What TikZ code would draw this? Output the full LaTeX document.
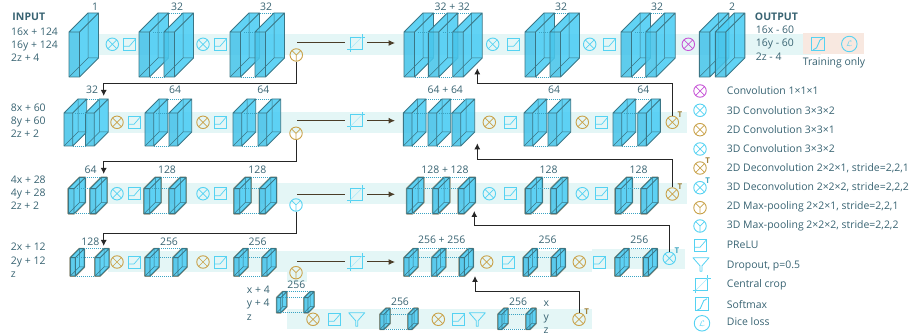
\documentclass[tikz,border=0pt]{standalone}
\usepackage{fontspec}
\setmainfont{Open Sans}
\usetikzlibrary{arrows.meta,positioning,calc}
\definecolor{iconcyan}{HTML}{55D2F2}
\definecolor{icongold}{HTML}{C9A24A}
\definecolor{iconpurple}{HTML}{C653D6}
\definecolor{slabfill}{HTML}{4BCDF4}
\definecolor{slabline}{HTML}{3A7686}
\definecolor{slabhalo}{HTML}{A89C80}
\definecolor{bandteal}{HTML}{E4F6F6}
\definecolor{bandorange}{HTML}{F8E8E0}
\definecolor{textteal}{HTML}{386372}
\definecolor{darkflow}{HTML}{4A3D28}
\definecolor{dotcolour}{HTML}{3AA4C4}
% one conv slab: x, y of front top left, width, height, depth
\newcommand{\slab}[5]{
  \fill[slabfill, fill opacity=0.88] (#1,#2) -- (#1+#5,#2-#5) -- (#1+#5+#3,#2-#5) -- (#1+#5+#3,#2-#5+#4) -- (#1+#3,#2+#4) -- (#1,#2+#4) -- cycle;
  \fill[slabline, fill opacity=0.08] (#1,#2) rectangle (#1+#3,#2+#4);
  \draw[slabline, line width=0.5pt] (#1+#5,#2-#5+#4) -- (#1,#2+#4) (#1+#5,#2-#5+#4) -- (#1+#5,#2-#5) (#1+#5,#2-#5+#4) -- (#1+#5+#3,#2-#5+#4);
  \draw[slabline, line width=0.9pt, line join=round] (#1,#2) rectangle (#1+#3,#2+#4) (#1,#2) -- (#1+#5,#2-#5) -- (#1+#5+#3,#2-#5) -- (#1+#3,#2) (#1+#5+#3,#2-#5) -- (#1+#5+#3,#2-#5+#4) -- (#1+#3,#2+#4);
}
% tan rim round the small slabs
\newcommand{\slabrim}[5]{
  \draw[slabhalo, line width=1.7pt, line join=round] (#1,#2) -- (#1+#5,#2-#5) -- (#1+#5+#3,#2-#5) -- (#1+#5+#3,#2-#5+#4) -- (#1+#3,#2+#4) -- (#1,#2+#4) -- cycle;
}
% dotted links between two neighbouring slabs
\newcommand{\slablink}[6]{
  \draw[linkdots] (#1+#5+#4,#3-#5) -- (#2+#5,#3-#5);
  \draw[linkdots] (#1+#5*0.75,#3) -- (#2,#3);
  \draw[linkdots] (#1+#4,#3+#6) -- (#2,#3+#6);
}

\begin{document}
\begin{tikzpicture}[
  x=1pt, y=-1pt,
  font=\fontsize{10.45}{13.3}\selectfont,
  every node/.style={text=textteal},
  band/.style={fill=bandteal},
  linkdots/.style={draw=dotcolour, line width=0.8pt, dash pattern=on 1pt off 1pt},
  conv/.style={circle, draw=#1, minimum size=12.5pt, inner sep=0pt, line width=0.9pt,
    path picture={\draw[#1, line width=0.7pt] (path picture bounding box.north west) -- (path picture bounding box.south east) (path picture bounding box.north east) -- (path picture bounding box.south west);}},
  deconv/.style={conv=#1, label={[text=#1!80!black, font=\bfseries\fontsize{8}{8}\selectfont, inner sep=0pt]40:T}},
  maxpool/.style={circle, draw=#1, minimum size=12.5pt, inner sep=0pt, line width=0.9pt,
    path picture={\draw[#1, line width=0.7pt] (path picture bounding box.center) -- (path picture bounding box.north west) (path picture bounding box.center) -- (path picture bounding box.north east) (path picture bounding box.center) -- (path picture bounding box.south);}},
  prelu/.style={rectangle, draw=iconcyan, minimum size=12pt, inner sep=0pt, line width=0.8pt,
    path picture={\draw[iconcyan, line width=0.7pt, shift={(path picture bounding box.center)}] (-6,2) -- (0,2) -- (6,-5);}},
  softmax/.style={rectangle, draw=iconcyan, minimum size=13pt, inner sep=0pt, line width=0.9pt,
    path picture={\draw[iconcyan, line width=0.9pt, shift={(path picture bounding box.center)}] (-5,6) .. controls (1,6) and (-1,-5.5) .. (5,-5.5);}},
  dice/.style={circle, draw=iconcyan, minimum size=15.5pt, inner sep=0pt, line width=0.9pt, text=iconcyan, font=\footnotesize},
  dropout/.style={rectangle, minimum size=17pt, inner sep=0pt,
    path picture={\draw[iconcyan, line width=0.8pt, line join=round, shift={(path picture bounding box.center)}] (-8,-6.5) -- (8,-6.5) -- (1,1.5) -- (1,7) -- (-1,7) -- (-1,1.5) -- cycle;}},
  crop/.style={rectangle, minimum size=22pt, inner sep=0pt,
    path picture={\draw[iconcyan, line width=0.8pt, shift={(path picture bounding box.center)}] (-6,-6) rectangle (6,6) (-6,-6) -- (-6,9) (-9,6) -- (6,6) (6,6) -- (6,-9) (-6,-6) -- (9,-6);
      \draw[iconcyan!50, line width=0.6pt, shift={(path picture bounding box.center)}] (-6,6) -- (6,-6);}},
  size/.style={inner sep=0pt},
  dims/.style={anchor=west, align=left, inner sep=0pt},
  heading/.style={anchor=west, inner sep=0pt, font=\bfseries\fontsize{10.5}{13}\selectfont},
  legend/.style={anchor=west, inner sep=0pt},
  flow/.style={darkflow, line width=1pt},
  flowarrow/.style={darkflow, line width=1pt, -{Latex[length=6.5pt, width=6pt]}},
  skiparrow/.style={black!85, line width=1pt, -{Latex[length=6pt, width=6pt]}}
]
\useasboundingbox (0,0) rectangle (912,336);

% bands
\fill[band] (98,33.7) rectangle (821,54.7);
\fill[band] (108,111.7) rectangle (687,132.7);
\fill[band] (107,183.3) rectangle (687,204.3);
\fill[band] (108,251) rectangle (592,272);
\fill[band] (592,248.7) rectangle (685,269.4);
\fill[band] (286.7,272) rectangle (306.7,282);
\fill[band] (286.7,308.7) rectangle (592,329.3);
\fill[bandorange] (802.7,33) rectangle (864,54.5);

% slabs per level
\foreach \sx in {69,139,164,230,255,404,428.3,452.7,525,550,621,645.7,699.3,715.3} {
  \slab{\sx}{32}{10.5}{45}{19}
}
\foreach \sx in {64,85.5,145,169,233,258,403.3,428,452,524,548,613,637.7} {
  \slab{\sx}{113}{8.7}{33}{14}
}
\foreach \sx in {68.3,90,144,169,234,259.5,406.7,432.7,458.3,525.3,550.7,615.3,641} {
  \slabrim{\sx}{188.7}{5.7}{25}{11.3}
  \slab{\sx}{188.7}{5.7}{25}{11.3}
}
\foreach \sx in {70.3,95,145,173,234,262,404,431.7,459.3,523.3,551.3,615,643.3} {
  \slabrim{\sx}{257.7}{5}{18.3}{9}
  \slab{\sx}{257.7}{5}{18.3}{9}
}
\foreach \sx in {276.7,304} {
  \slabrim{\sx}{297.7}{4}{15}{6}
  \slab{\sx}{297.7}{4}{15}{6}
}
\foreach \sx in {380,408,498,526} {
  \slabrim{\sx}{314.3}{4}{15}{6}
  \slab{\sx}{314.3}{4}{15}{6}
}

% dotted links
\foreach \sa/\sb in {139/164,230/255,404/428.3,428.3/452.7,525/550,621/645.7} {
  \slablink{\sa}{\sb}{32}{10.5}{19}{45}
}
\foreach \sa/\sb in {64/85.5,145/169,233/258,403.3/428,428/452,524/548,613/637.7} {
  \slablink{\sa}{\sb}{113}{8.7}{14}{33}
}
\foreach \sa/\sb in {68.3/90,144/169,234/259.5,406.7/432.7,432.7/458.3,525.3/550.7,615.3/641} {
  \slablink{\sa}{\sb}{188.7}{5.7}{11.3}{25}
}
\foreach \sa/\sb in {70.3/95,145/173,234/262,404/431.7,431.7/459.3,523.3/551.3,615/643.3} {
  \slablink{\sa}{\sb}{257.7}{5}{9}{18.3}
}
\slablink{276.7}{304}{297.7}{4}{6}{15}
\slablink{380}{408}{314.3}{4}{6}{15}
\slablink{498}{526}{314.3}{4}{6}{15}

% level 1
\node[conv=iconcyan] (c11) at (112.3,44.3) {};
\node[prelu] (p11) at (129.3,44.3) {};
\node[conv=iconcyan] (c12) at (203,44.3) {};
\node[prelu] (p12) at (220,44.3) {};
\node[maxpool=icongold] (pool1) at (296.3,55) {};
\node[crop] (crop1) at (356,43) {};
\node[conv=iconcyan] (c13) at (492.7,44.3) {};
\node[prelu] (p13) at (513.7,44.3) {};
\node[conv=iconcyan] (c14) at (589.7,44.3) {};
\node[prelu] (p14) at (609,44.3) {};
\node[conv=iconpurple] (c15) at (688.3,44.3) {};
\node[softmax] (soft1) at (818.3,43.7) {};
\node[dice] (dice1) at (849.3,44) {$\mathcal{L}$};

% level 2
\node[conv=icongold] (c21) at (117,122.3) {};
\node[prelu] (p21) at (134,122.3) {};
\node[conv=icongold] (c22) at (203,122.3) {};
\node[prelu] (p22) at (220,122.3) {};
\node[maxpool=icongold] (pool2) at (296,133.3) {};
\node[crop] (crop2) at (356,120.7) {};
\node[conv=icongold] (c23) at (489.3,122.3) {};
\node[prelu] (p23) at (510.3,122.3) {};
\node[conv=icongold] (c24) at (582.3,122.3) {};
\node[prelu] (p24) at (601.7,122.3) {};
\node[deconv=icongold] (d2) at (672.3,122.3) {};

% level 3
\node[conv=iconcyan] (c31) at (117,193.7) {};
\node[prelu] (p31) at (134,193.7) {};
\node[conv=iconcyan] (c32) at (203,193.7) {};
\node[prelu] (p32) at (220,193.7) {};
\node[maxpool=iconcyan] (pool3) at (296,205) {};
\node[crop] (crop3) at (356,194.3) {};
\node[conv=iconcyan] (c33) at (489.3,193.7) {};
\node[prelu] (p33) at (510.3,193.7) {};
\node[conv=iconcyan] (c34) at (582.3,193.7) {};
\node[prelu] (p34) at (601.7,193.7) {};
\node[deconv=icongold] (d3) at (672.3,194) {};

% level 4
\node[conv=icongold] (c41) at (117,262) {};
\node[prelu] (p41) at (134,262) {};
\node[conv=icongold] (c42) at (203,262) {};
\node[prelu] (p42) at (220,262) {};
\node[maxpool=icongold] (pool4) at (296,272.7) {};
\node[crop] (crop4) at (356,262) {};
\node[conv=icongold] (c43) at (486.7,262) {};
\node[prelu] (p43) at (508,262) {};
\node[conv=icongold] (c44) at (579.3,262) {};
\node[prelu] (p44) at (599,262) {};
\node[deconv=iconcyan] (d4) at (669.3,258.3) {};

% level 5
\node[conv=icongold] (c51) at (313,319.3) {};
\node[prelu] (p51) at (334,319.3) {};
\node[dropout] (f51) at (356.7,319.3) {};
\node[conv=icongold] (c52) at (438.3,319.3) {};
\node[prelu] (p52) at (458.3,319.3) {};
\node[dropout] (f52) at (477.3,319.3) {};
\node[deconv=icongold] (d5) at (579,319.3) {};

% channel counts
\node[size] (n11) at (95,7) {1};
\node[size] (n12) at (177,7) {32};
\node[size] (n13) at (266,7) {32};
\node[size] (n14) at (452.3,7) {32 + 32};
\node[size] (n15) at (561,7) {32};
\node[size] (n16) at (657,7) {32};
\node[size] (n17) at (732,7) {2};
\node[size] (n21) at (92,89.3) {32};
\node[size] (n22) at (175,89.3) {64};
\node[size] (n23) at (263.3,89.3) {64};
\node[size] (n24) at (445.3,89.3) {64 + 64};
\node[size] (n25) at (554,89.3) {64};
\node[size] (n26) at (643.3,89.3) {64};
\node[size] (n31) at (90.7,170) {64};
\node[size] (n32) at (167,170) {128};
\node[size] (n33) at (257.3,170) {128};
\node[size] (n34) at (445,170) {128 + 128};
\node[size] (n35) at (548.7,170) {128};
\node[size] (n36) at (638.7,170) {128};
\node[size] (n41) at (90.3,242) {128};
\node[size] (n42) at (169,242) {256};
\node[size] (n43) at (257.7,242) {256};
\node[size] (n44) at (441.7,239.3) {256 + 256};
\node[size] (n45) at (547.7,239.3) {256};
\node[size] (n46) at (639.3,239.3) {256};
\node[size] (n51) at (296.3,284.7) {256};
\node[size] (n52) at (400,302) {256};
\node[size] (n53) at (518,302) {256};

% dimensions
\node[heading] (input) at (12.3,16.7) {INPUT};
\node[dims] (dim1) at (11,44.7) {16x + 124\\16y + 124\\2z + 4};
\node[dims] (dim2) at (10.7,120.7) {8x + 60\\8y + 60\\2z + 2};
\node[dims] (dim3) at (10.7,192.7) {4x + 28\\4y + 28\\2z + 2};
\node[dims] (dim4) at (10.7,260.3) {2x + 12\\2y + 12\\z};
\node[dims] (dim5) at (246.7,303) {x + 4\\y + 4\\z};
\node[dims] (dim6) at (543.3,317.3) {x\\y\\z};
\node[heading] (output) at (754.7,16.7) {OUTPUT};
\node[dims] (dim7) at (755.7,43) {16x - 60\\16y - 60\\2z - 4};
\node[size] (train) at (834,62.3) {Training only};

% legend
\node[conv=iconpurple] (l1) at (700,91) {};
\node[conv=iconcyan] (l2) at (700,110.3) {};
\node[conv=icongold] (l3) at (700,129.7) {};
\node[conv=iconcyan] (l4) at (700,149) {};
\node[deconv=icongold] (l5) at (700,168) {};
\node[deconv=iconcyan] (l6) at (700,187.7) {};
\node[maxpool=icongold] (l7) at (700,207.7) {};
\node[maxpool=iconcyan] (l8) at (700,226) {};
\node[prelu] (l9) at (700,245.3) {};
\node[dropout] (l10) at (701,264.3) {};
\node[crop] (l11) at (701.7,284.3) {};
\node[softmax] (l12) at (702,304.3) {};
\node[dice] (l13) at (702,323.3) {$\mathcal{L}$};
\node[legend] (t1) at (726.7,91) {Convolution 1×1×1};
\node[legend] (t2) at (726.7,110.3) {3D Convolution 3×3×2};
\node[legend] (t3) at (726.7,129.7) {2D Convolution 3×3×1};
\node[legend] (t4) at (726.7,149) {3D Convolution 3×3×2};
\node[legend] (t5) at (726.7,168) {2D Deconvolution 2×2×1, stride=2,2,1};
\node[legend] (t6) at (726.7,187.7) {3D Deconvolution 2×2×2, stride=2,2,2};
\node[legend] (t7) at (726.7,207) {2D Max-pooling 2×2×1, stride=2,2,1};
\node[legend] (t8) at (726.7,225.3) {3D Max-pooling 2×2×2, stride=2,2,2};
\node[legend] (t9) at (726.7,245.3) {PReLU};
\node[legend] (t10) at (726.7,266) {Dropout, p=0.5};
\node[legend] (t11) at (726.7,284.3) {Central crop};
\node[legend] (t12) at (726.7,304.3) {Softmax};
\node[legend] (t13) at (726.7,321.3) {Dice loss};

% ends of the connectors
\coordinate (out1) at (297,43);
\coordinate (out2) at (297,120.7);
\coordinate (out3) at (297,194.3);
\coordinate (out4) at (297,262);
\coordinate (merge1) at (395,43);
\coordinate (merge2) at (395,120.7);
\coordinate (merge3) at (395,194.3);
\coordinate (merge4) at (395,262);
\coordinate (down2) at (103.7,96);
\coordinate (down3) at (103.7,174);
\coordinate (down4) at (103.7,246);
\coordinate (up1) at (477.3,68.3);
\coordinate (up2) at (477.3,143.3);
\coordinate (up3) at (474.3,211);
\coordinate (up4) at (475,276);

\draw[flow] (out1) -- (crop1);
\draw[flowarrow] (crop1) -- (merge1);
\draw[flow] (out2) -- (crop2);
\draw[flowarrow] (crop2) -- (merge2);
\draw[flow] (out3) -- (crop3);
\draw[flowarrow] (crop3) -- (merge3);
\draw[flow] (out4) -- (crop4);
\draw[flowarrow] (crop4) -- (merge4);
\draw[skiparrow] (pool1.south) -- ++(0,22) -| (down2);
\draw[skiparrow] (pool2.south) -- ++(0,22) -| (down3);
\draw[skiparrow] (pool3.south) -- ++(0,22) -| (down4);
\draw[skiparrow] (d2.north) -- ++(0,-32) -| (up1);
\draw[skiparrow] (d3.north) -- ++(0,-27.5) -| (up2);
\draw[skiparrow] (d4.north) -- ++(0,-26) -| (up3);
\draw[skiparrow] (d5.north) -- ++(0,-21.5) -| (up4);
\end{tikzpicture}
\end{document}
